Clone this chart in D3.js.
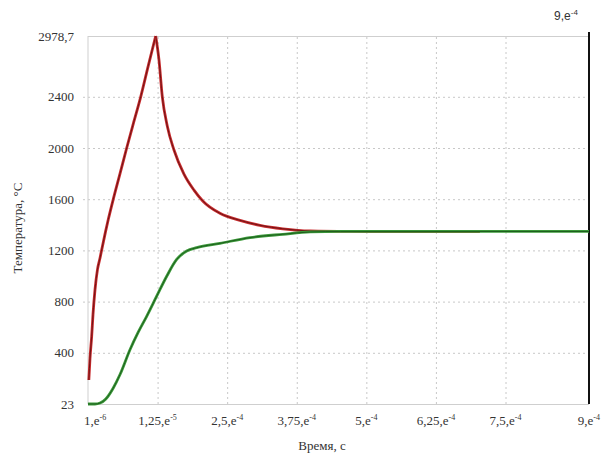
<!DOCTYPE html>
<html>
<head>
<meta charset="utf-8">
<title>Температура</title>
<script src="https://d3js.org/d3.v7.min.js"></script>
<style>
  body { margin: 0; background: #fff; }
  svg { display: block; font-family: "Liberation Serif", "Times New Roman", serif; }
</style>
</head>
<body>
<svg width="602" height="454"></svg>
<script>
// time values in seconds, temperature in °C
var timeRed = [0.015e-4, 0.036e-4, 0.066e-4, 0.09e-4, 0.126e-4, 0.17e-4, 0.216e-4, 0.239e-4, 0.314e-4,
  0.365e-4, 0.454e-4, 0.575e-4, 0.695e-4, 0.82e-4, 0.947e-4, 1.08e-4, 1.216e-4,
  1.275e-4, 1.335e-4, 1.424e-4, 1.545e-4, 1.724e-4, 1.904e-4, 2.066e-4, 2.37e-4, 2.73e-4, 3.09e-4,
  3.50e-4, 3.99e-4, 4.71e-4, 5.6e-4, 7.04e-4];
var tempRed = [200, 360, 528, 700, 894, 1050, 1140, 1190, 1345,
  1443, 1600, 1800, 2000, 2200, 2400, 2690, 2978.7,
  2751, 2400, 2172, 1984, 1796, 1671, 1584, 1490, 1435, 1396,
  1369, 1352, 1348, 1347, 1347];

var timeGreen = [0, 0.126e-4, 0.216e-4, 0.32e-4, 0.454e-4, 0.575e-4, 0.754e-4, 0.898e-4, 1.054e-4,
  1.234e-4, 1.414e-4, 1.593e-4, 1.773e-4, 1.953e-4, 2.37e-4, 2.91e-4, 3.50e-4, 3.99e-4,
  4.53e-4, 9.0e-4];
var tempGreen = [23, 23, 30, 60, 141, 240, 424, 557, 685,
  842, 998, 1129, 1195, 1221, 1255, 1300, 1326, 1344,
  1348, 1348];

var yTicks = [23, 400, 800, 1200, 1600, 2000, 2400, 2978.7];
var yTickLabels = ["23", "400", "800", "1200", "1600", "2000", "2400", "2978,7"];
var xTicks = [1e-6, 1.25e-4, 2.5e-4, 3.75e-4, 5e-4, 6.25e-4, 7.5e-4, 9e-4];
var xTickMant = ["1,e", "1,25,e", "2,5,e", "3,75,e", "5,e", "6,25,e", "7,5,e", "9,e"];
var xTickExp = ["-6", "-5", "-4", "-4", "-4", "-4", "-4", "-4"];

var svg = d3.select("svg");
var W = 602;
var plotL = 88, plotR = 589, plotT = 36, plotB = 404;

var xScale = d3.scaleLinear().domain([0, 9e-4]).range([plotL, plotR]);
// the source axis spaces its ticks evenly, the top tick sits a bit higher
var step = 51.2;
var yScale = d3.scaleLinear().domain(yTicks)
  .range(yTicks.map(function(d, i) { return i < yTicks.length - 1 ? plotB - i * step : plotT; }));

// grid
var yAxis = d3.axisLeft(yScale).tickValues(yTicks).tickSize(-(plotR - plotL)).tickFormat("").tickSizeOuter(0);
var gy = svg.append("g").attr("transform", "translate(" + plotL + ",0)").call(yAxis);
gy.select(".domain").remove();
gy.selectAll("line").attr("stroke", "#c8c8c8").attr("stroke-dasharray", "2,3").attr("x1", -5);
gy.selectAll(".tick").filter(function(d, i) { return i == 0 || i == yTicks.length - 1; })
  .select("line").attr("stroke-dasharray", null).attr("x1", 0).attr("stroke", "#cfcfcf");

var xAxis = d3.axisBottom(xScale).tickValues(xTicks.slice(1, -1)).tickSize(-(plotB - plotT)).tickFormat("").tickSizeOuter(0);
var gx = svg.append("g").attr("transform", "translate(0," + plotB + ")").call(xAxis);
gx.select(".domain").remove();
gx.selectAll("line").attr("stroke", "#c8c8c8").attr("stroke-dasharray", "2,3");

// left frame line
svg.append("line").attr("x1", plotL).attr("x2", plotL).attr("y1", plotT).attr("y2", plotB)
  .attr("stroke", "#cfcfcf");

// y labels
svg.append("g").selectAll("text").data(yTicks).enter().append("text")
  .attr("x", 74).attr("y", function(d) { return yScale(d); })
  .attr("dy", "0.35em").attr("text-anchor", "end")
  .attr("font-size", 13).attr("fill", "#333")
  .text(function(d, i) { return yTickLabels[i]; });

// x labels
function expLabel(sel, i) {
  sel.append("tspan").text(xTickMant[i]);
  sel.append("tspan").attr("font-size", 8).attr("dy", -5).text(xTickExp[i]);
}
var xl = svg.append("g").selectAll("text").data(xTicks).enter().append("text")
  .attr("y", 425).attr("font-size", 13).attr("fill", "#333")
  .attr("text-anchor", "middle")
  .attr("x", function(d) { return xScale(d); })
  .each(function(d, i) { expLabel(d3.select(this), i); });
xl.each(function() {
  var b = this.getBBox();
  var x0 = +d3.select(this).attr("x");
  if (b.x < 84) d3.select(this).attr("x", x0 + (84 - b.x));
  if (b.x + b.width > W - 2) d3.select(this).attr("x", x0 - (b.x + b.width - (W - 2)));
});

// top-right label and black marker line
var tr = svg.append("text").attr("x", xScale(xTicks[xTicks.length - 1]) - 23).attr("y", 20)
  .attr("font-size", 12).attr("fill", "#333").attr("text-anchor", "middle")
  .attr("font-family", "Liberation Sans, Arial, sans-serif");
expLabel(tr, xTicks.length - 1);
svg.append("line").attr("x1", xScale(9e-4)).attr("x2", xScale(9e-4)).attr("y1", 32).attr("y2", plotB)
  .attr("stroke", "#111").attr("stroke-width", 2);

// curves
var line = d3.line().x(function(d) { return xScale(d[0]); }).y(function(d) { return yScale(d[1]); })
  .curve(d3.curveMonotoneX);
var redPts = timeRed.map(function(t, i) { return [t, tempRed[i]]; });
var greenPts = timeGreen.map(function(t, i) { return [t, tempGreen[i]]; });
// split at the peak so the tip stays sharp
var peak = d3.maxIndex(tempRed);
var redParts = [redPts.slice(0, peak + 1), redPts.slice(peak)];

function drawCurve(pts, outer, inner) {
  svg.append("path").datum(pts).attr("d", line).attr("fill", "none")
    .attr("stroke", outer).attr("stroke-width", 2.8).attr("stroke-linejoin", "round");
  svg.append("path").datum(pts).attr("d", line).attr("fill", "none")
    .attr("stroke", inner).attr("stroke-width", 1);
}
redParts.forEach(function(p) { drawCurve(p, "#c72a2c", "#6e1416"); });
drawCurve(greenPts, "#3c9a3a", "#1d5e1d");

// axis titles
svg.append("text").attr("x", 322).attr("y", 450).attr("text-anchor", "middle")
  .attr("font-size", 13).attr("fill", "#333").text("Время, с");
svg.append("text").attr("transform", "translate(22,228) rotate(-90)").attr("text-anchor", "middle")
  .attr("font-size", 13).attr("fill", "#333").text("Температура, °С");
</script>
</body>
</html>
